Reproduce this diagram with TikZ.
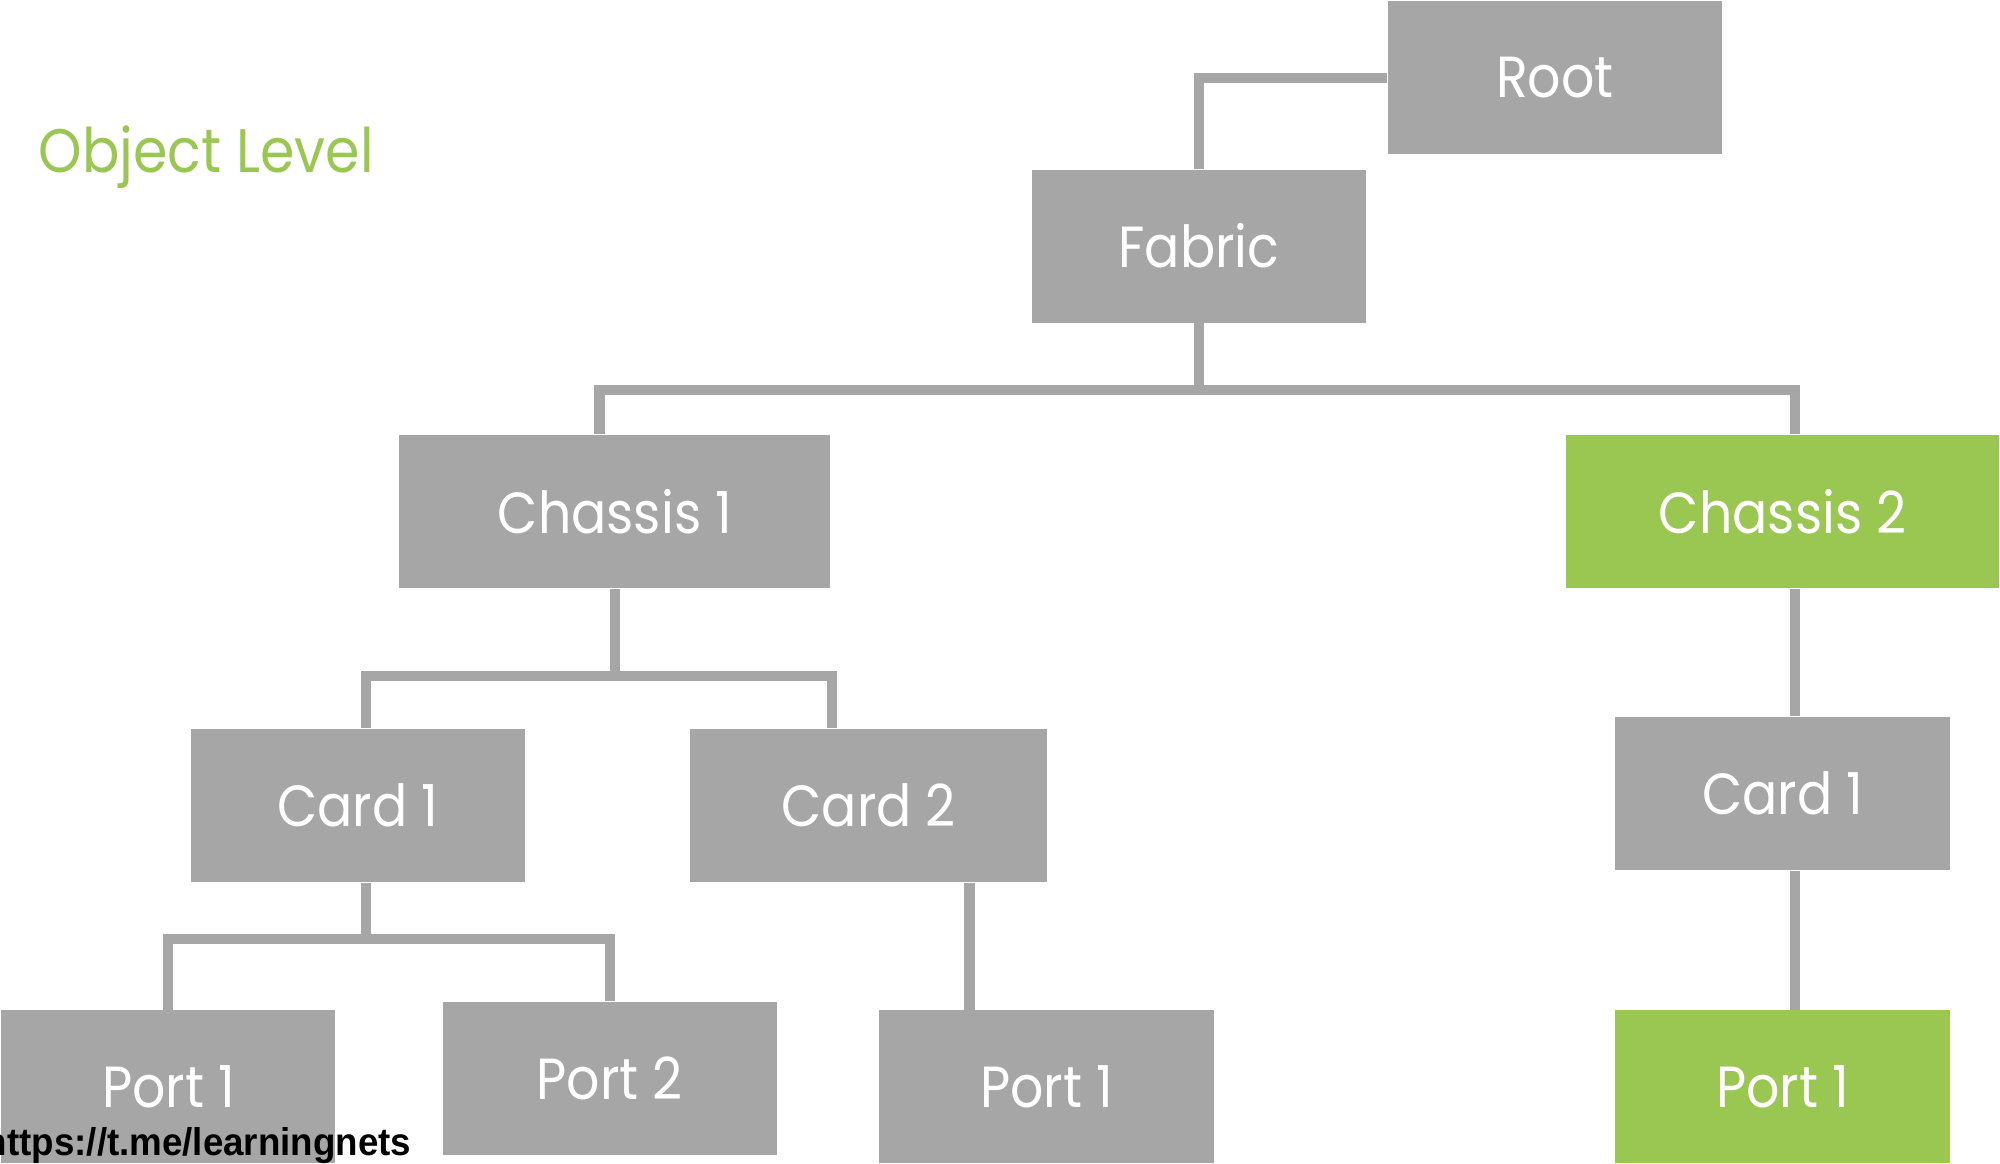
\documentclass[tikz,border=0pt]{standalone}
\usepackage{fontspec}
\setmainfont{Poppins}[FakeStretch=0.9]
\newfontfamily\wmfont{Liberation Sans}[FakeStretch=0.95]
\usepackage{tikz}
\usetikzlibrary{positioning}
\definecolor{boxgray}{HTML}{A6A6A6}
\definecolor{levelgreen}{HTML}{9AC652}

\begin{document}
\begin{tikzpicture}[
  x=0.012755cm,
  y=-0.012755cm,
  objbox/.style={
    rectangle,
    fill=boxgray,
    text=white,
    inner sep=0pt,
    minimum width=3.342cm,
    minimum height=1.53cm,
    font=\fontsize{16.5}{20}\selectfont
  },
  greenbox/.style={objbox, fill=levelgreen},
  link/.style={draw=boxgray, line width=2.9pt}
]
\useasboundingbox (0,0) rectangle (1568,912);
\node[objbox] (root) at (1219,61) {Root};
\node[objbox] (fabric) at (940,193) {Fabric};
\node[objbox, minimum width=4.311cm] (chassisA) at (482,401) {Chassis 1};
\node[greenbox, minimum width=4.324cm] (chassisB) at (1397.5,401) {Chassis 2};
\node[objbox] (cardA) at (280.5,631.5) {Card 1};
\node[objbox, minimum width=3.571cm] (cardB) at (681,631.5) {Card 2};
\node[objbox] (cardC) at (1397.5,622) {Card 1};
\node[objbox] (portA) at (132,852) {Port 1};
\node[objbox] (portB) at (478,845.5) {Port 2};
\node[objbox] (portC) at (820.5,852) {Port 1};
\node[greenbox] (portD) at (1397.5,852) {Port 1};
\node[anchor=base west, inner sep=0pt, text=levelgreen, font=\fontsize{17.5}{20}\selectfont] (level) at (30,135) {Object Level};
\node[anchor=base east, inner sep=0pt, font=\wmfont\bfseries\fontsize{11}{13}\selectfont] (wm) at (323,906) {https://t.me/learningnets};

% tree links
\draw[link] (root.west) -| (fabric.north);
\draw[link] (fabric.south) -- (fabric.south |- 0,306);
\draw[link] ([xshift=-0.153cm]chassisA.north) |- ([xshift=0.121cm]chassisB.north |- 0,306) -- ([xshift=0.121cm]chassisB.north);
\draw[link] (chassisA.south) -- (chassisA.south |- 0,530);
\draw[link] ([xshift=0.083cm]cardA.north) |- ([xshift=-0.37cm]cardB.north |- 0,530) -- ([xshift=-0.37cm]cardB.north);
\draw[link] ([xshift=0.083cm]cardA.south) -- ([xshift=0.083cm]cardA.south |- 0,736);
\draw[link] (portA.north) |- (portB.north |- 0,736) -- (portB.north);
\draw[link] ([xshift=1.008cm]cardB.south) -- ([xshift=1.008cm]cardB.south |- portC.north);
\draw[link] ([xshift=0.121cm]chassisB.south) -- ([xshift=0.121cm]cardC.north);
\draw[link] ([xshift=0.121cm]cardC.south) -- ([xshift=0.121cm]portD.north);
\end{tikzpicture}
\end{document}
